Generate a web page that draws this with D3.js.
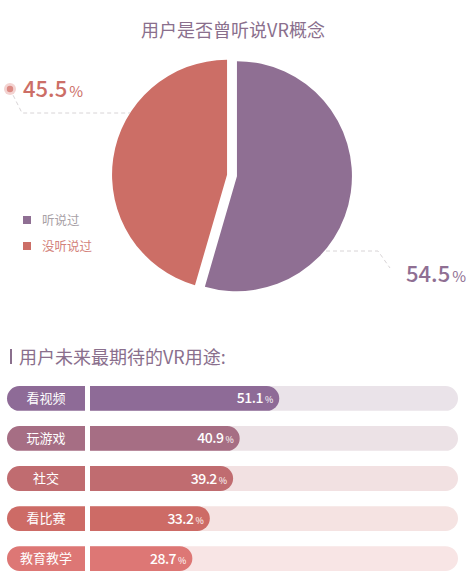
<!DOCTYPE html>
<html>
<head>
<meta charset="utf-8">
<script src="https://cdn.jsdelivr.net/npm/d3@7"></script>
<style>
  body { margin: 0; background: #fff; }
  text { font-family: "Noto Sans CJK SC", "Noto Sans", sans-serif; }
</style>
</head>
<body>
<script>
// pie data
const pieLabels = ["听说过", "没听说过"];
const pieValues = [54.5, 45.5];
const pieColors = ["#8f6f93", "#cc6e66"];

// bar data
const useCats = ["看视频", "玩游戏", "社交", "看比赛", "教育教学"];
const useValues = [51.1, 40.9, 39.2, 33.2, 28.7];
const barColors = ["#8e6b97", "#a66e84", "#c06c70", "#cd6b66", "#dd7775"];
const trackColors = ["#eae3e9", "#ece2e6", "#f2e1e2", "#f5e3e2", "#f8e5e5"];

const width = 473, height = 588;

const svg = d3.select("body")
    .append("svg")
    .attr("width", width)
    .attr("height", height);

// title
svg.append("text")
    .attr("x", 233)
    .attr("y", 37)
    .attr("text-anchor", "middle")
    .attr("font-size", "18px")
    .attr("fill", "#8a6f8d")
    .text("用户是否曾听说VR概念");

// pie
const cx = 232, cy = 175.5, r = 115, explode = 5;
const pie = d3.pie().sort(null).value(d => d);
const arc = d3.arc().innerRadius(0).outerRadius(r);
const arcs = pie(pieValues);

const pg = svg.append("g").attr("transform", "translate(" + cx + "," + cy + ")");

pg.selectAll("path")
    .data(arcs)
    .enter().append("path")
    .attr("d", arc)
    .attr("fill", (d, i) => pieColors[i])
    .attr("transform", function(d) {
        const a = (d.startAngle + d.endAngle) / 2;
        return "translate(" + (Math.sin(a) * explode) + "," + (-Math.cos(a) * explode) + ")";
    });

// leader lines
const dash = "#d8d4d6";
svg.append("path")
    .attr("d", "M10,89 L22,113 L130,113")
    .attr("fill", "none")
    .attr("stroke", dash)
    .attr("stroke-width", 1)
    .attr("stroke-dasharray", "4,3");
svg.append("path")
    .attr("d", "M326,251 L378,251 L390,268")
    .attr("fill", "none")
    .attr("stroke", dash)
    .attr("stroke-width", 1)
    .attr("stroke-dasharray", "4,3");

// dot
svg.append("circle").attr("cx", 10).attr("cy", 89).attr("r", 6).attr("fill", "#f3d3d1");
svg.append("circle").attr("cx", 10).attr("cy", 89).attr("r", 3.2).attr("fill", "#dc8a84");

// value labels
function pctLabel(x, y, val, color) {
    const t = svg.append("text")
        .attr("x", x)
        .attr("y", y)
        .attr("fill", color)
        .attr("font-family", "Roboto, sans-serif");
    t.append("tspan").attr("font-size", "22px").attr("font-weight", "500").text(val);
    t.append("tspan").attr("font-size", "15px").attr("dx", 2).text("%");
}
pctLabel(23, 97, pieValues[1].toFixed(1), pieColors[1]);
pctLabel(406, 282, pieValues[0].toFixed(1), pieColors[0]);

// legend
const lg = svg.append("g");
pieLabels.forEach(function(lab, i) {
    lg.append("rect")
        .attr("x", 23).attr("y", 216 + i * 26)
        .attr("width", 8).attr("height", 8)
        .attr("fill", pieColors[i]);
    lg.append("text")
        .attr("x", 42).attr("y", 225 + i * 26)
        .attr("font-size", "12.5px")
        .attr("fill", i === 0 ? "#a8a1a6" : "#d3827b")
        .text(lab);
});

// second section title
svg.append("rect")
    .attr("x", 10).attr("y", 349)
    .attr("width", 2).attr("height", 15)
    .attr("fill", "#8a6f8d");
svg.append("text")
    .attr("x", 19)
    .attr("y", 364)
    .attr("font-size", "18px")
    .attr("fill", "#8a6f8d")
    .text("用户未来最期待的VR用途:");

// bars
const barStart = 90, trackEnd = 458;
const xScale = d3.scaleLinear().domain([0, 100]).range([81, 469]);
const yScale = d3.scaleBand().domain(useCats).range([386, 571]).paddingInner(0.38);
const bh = yScale.bandwidth(), rr = bh / 2;

// right-rounded rectangle
function rightRound(x0, x1, y, h, rad) {
    return "M" + x0 + "," + y +
        " L" + (x1 - rad) + "," + y +
        " A" + rad + "," + rad + " 0 0 1 " + (x1 - rad) + "," + (y + h) +
        " L" + x0 + "," + (y + h) + " Z";
}
function leftRound(x0, x1, y, h, rad) {
    return "M" + x1 + "," + y +
        " L" + (x0 + rad) + "," + y +
        " A" + rad + "," + rad + " 0 0 0 " + (x0 + rad) + "," + (y + h) +
        " L" + x1 + "," + (y + h) + " Z";
}

const rows = svg.selectAll(".row")
    .data(useCats)
    .enter().append("g")
    .attr("class", "row");

rows.append("path")
    .attr("d", d => rightRound(barStart, trackEnd, yScale(d), bh, rr))
    .attr("fill", (d, i) => trackColors[i]);

rows.append("path")
    .attr("d", (d, i) => rightRound(barStart, xScale(useValues[i]), yScale(d), bh, rr))
    .attr("fill", (d, i) => barColors[i]);

rows.append("path")
    .attr("d", d => leftRound(7, 85, yScale(d), bh, rr))
    .attr("fill", (d, i) => barColors[i]);

rows.append("text")
    .attr("x", 46)
    .attr("y", d => yScale(d) + bh / 2 + 4.5)
    .attr("text-anchor", "middle")
    .attr("font-size", "13px")
    .attr("fill", "#fff")
    .text(d => d);

const vt = rows.append("text")
    .attr("x", (d, i) => xScale(useValues[i]) - 6)
    .attr("y", d => yScale(d) + bh / 2 + 5)
    .attr("text-anchor", "end")
    .attr("fill", "#fff")
    .attr("font-family", "Roboto, sans-serif");
vt.append("tspan")
    .attr("font-size", "14px")
    .attr("font-weight", "500")
    .attr("letter-spacing", "-0.5px")
    .text((d, i) => useValues[i].toFixed(1));
vt.append("tspan")
    .attr("font-size", "9px")
    .attr("dx", 2)
    .text("%");
</script>
</body>
</html>
